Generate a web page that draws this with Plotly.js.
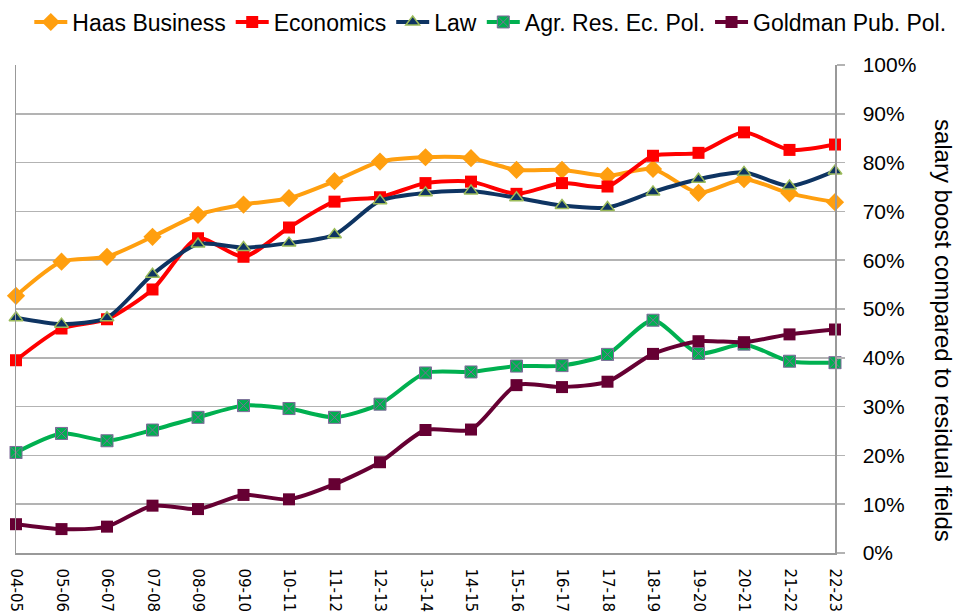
<!DOCTYPE html>
<html>
<head>
<meta charset="utf-8">
<script src="https://cdn.plot.ly/plotly-3.0.1.min.js"></script>
<style>html,body{margin:0;padding:0;background:#fff;}#chart{width:960px;height:612px;}</style>
</head>
<body>
<div id="chart"></div>
<script>
const years = ["04-05","05-06","06-07","07-08","08-09","09-10","10-11","11-12","12-13","13-14","14-15","15-16","16-17","17-18","18-19","19-20","20-21","21-22","22-23"];
const haas = [52.7,59.7,60.7,64.8,69.3,71.4,72.7,76.2,80.2,81.1,80.9,78.5,78.5,77.3,78.7,73.8,76.6,73.7,71.9];
const economics = [39.5,46.0,47.9,54.0,64.5,60.7,66.7,72.0,72.9,75.8,76.1,73.6,75.8,75.1,81.4,82.0,86.2,82.6,83.7];
const law = [48.2,46.9,48.2,57.1,63.3,62.6,63.5,65.2,72.2,73.8,74.2,72.8,71.2,70.8,74.0,76.6,78.0,75.2,78.3];
const agr = [20.6,24.5,23.0,25.2,27.8,30.2,29.6,27.8,30.5,36.9,37.1,38.3,38.4,40.7,47.7,40.9,42.8,39.3,39.0];
const goldman = [5.9,4.9,5.4,9.7,9.0,11.9,11.0,14.1,18.6,25.2,25.3,34.4,34.0,35.1,40.8,43.4,43.2,44.8,45.8];

const seriesNames = ["Haas Business","Economics","Law","Agr. Res. Ec. Pol.","Goldman Pub. Pol."];
const seriesValues = [haas, economics, law, agr, goldman];
const styles = [
  {color:"#ff9f0f", symbol:"diamond", size:14, lc:"#ff9f0f", lw:0},
  {color:"#ff0000", symbol:"square", size:12, lc:"#ff0000", lw:0},
  {color:"#0e3462", symbol:"triangle-up", size:12, lc:"#9bbb59", lw:1.5},
  {color:"#00b050", symbol:"square-x", size:12, lc:"#7f6a9a", lw:1},
  {color:"#660033", symbol:"square", size:12, lc:"#660033", lw:0}
];

const traces = seriesNames.map((n,i)=>({
  type:"scatter", mode:"lines+markers", name:n, x:years, y:seriesValues[i],
  line:{color:styles[i].color, width:4, shape:"spline", smoothing:0.7},
  marker:{symbol:styles[i].symbol, size:styles[i].size, color:styles[i].color, line:{color:styles[i].lc, width:styles[i].lw}},
  cliponaxis:false
}));

const layout = {
  width:960, height:612,
  margin:{l:16, r:125, t:65, b:59, autoexpand:false},
  paper_bgcolor:"#fff", plot_bgcolor:"#fff",
  font:{family:"Liberation Sans, Arial, sans-serif", color:"#000"},
  showlegend:true,
  legend:{orientation:"h", x:1.142, xanchor:"right", y:1.044, yanchor:"bottom",
          font:{size:23, family:"Liberation Sans, Arial, sans-serif"}, itemwidth:33, tracegroupgap:0},
  xaxis:{type:"category", range:[0,18], showgrid:false, zeroline:false, automargin:false,
         showline:true, linecolor:"#999", linewidth:1.5, ticks:"", tickangle:90,
         tickfont:{size:15, family:"DejaVu Sans, sans-serif"}, ticklabelstandoff:11, fixedrange:true},
  yaxis:{side:"right", range:[0,100], dtick:10, ticksuffix:"%", showgrid:true, gridcolor:"#b3b3b3", gridwidth:1.5,
         zeroline:false, showline:true, mirror:true, linecolor:"#999", linewidth:1.5, automargin:false,
         ticks:"outside", ticklen:8, tickcolor:"#b3b3b3", tickwidth:1.5,
         tickfont:{size:21, family:"Liberation Sans, Arial, sans-serif"}, ticklabelstandoff:14},
  annotations:[{text:"salary boost compared to residual fields", xref:"paper", yref:"paper",
                x:1.132, y:0.457, xanchor:"center", yanchor:"middle", textangle:90, showarrow:false,
                font:{size:24, family:"Liberation Sans, Arial, sans-serif"}}]
};
Plotly.newPlot("chart", traces, layout, {displayModeBar:false, staticPlot:true});
</script>
</body>
</html>
